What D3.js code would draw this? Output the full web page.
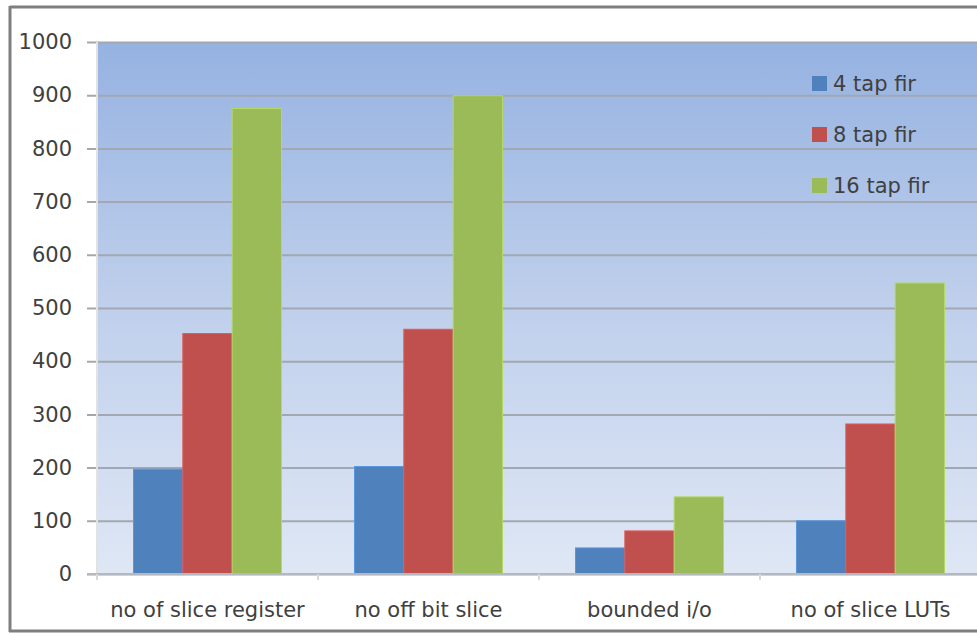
<!DOCTYPE html>
<html>
<head>
<meta charset="utf-8">
<script src="https://cdn.jsdelivr.net/npm/d3@7"></script>
<style>
  html, body { margin: 0; padding: 0; background: #fff; }
  svg { display: block; }
  text { font-family: "DejaVu Sans", sans-serif; fill: #404040; }
</style>
</head>
<body>
<svg id="chart" width="977" height="633"></svg>
<script>
const categories = ["no of slice register", "no off bit slice", "bounded i/o", "no of slice LUTs"];
const seriesNames = ["4 tap fir", "8 tap fir", "16 tap fir"];
const tap4 = [197, 202, 49, 100];
const tap8 = [452, 460, 81, 282];
const tap16 = [875, 899, 145, 547];
const yTicks = [0, 100, 200, 300, 400, 500, 600, 700, 800, 900, 1000];
const colors = ["#4f81bd", "#c0504d", "#9bbb59"];

const seriesValues = [tap4, tap8, tap16];
const svg = d3.select("#chart");
const W = 977, H = 633;
const plot = { left: 97, top: 42, right: 981, bottom: 574 };
const FONT = "'DejaVu Sans', sans-serif";

svg.append("rect").attr("x", 0).attr("y", 0).attr("width", W).attr("height", H).attr("fill", "#fff");

const defs = svg.append("defs");
const grad = defs.append("linearGradient").attr("id", "bg").attr("x1", 0).attr("y1", 0).attr("x2", 0).attr("y2", 1);
grad.append("stop").attr("offset", "0%").attr("stop-color", "#95b2e1");
grad.append("stop").attr("offset", "45%").attr("stop-color", "#bccdeb");
grad.append("stop").attr("offset", "100%").attr("stop-color", "#dfe7f5");

const x0 = d3.scaleBand().domain(categories).range([plot.left, plot.right]).paddingInner(0).paddingOuter(0);
const x1 = d3.scaleBand().domain(seriesNames).range([0, x0.bandwidth()]).paddingInner(0).paddingOuter(0.74);
const y = d3.scaleLinear().domain([0, 1000]).range([plot.bottom, plot.top]);

svg.append("rect")
  .attr("x", plot.left).attr("y", y(1000))
  .attr("width", plot.right - plot.left).attr("height", y(0) - y(1000))
  .attr("fill", "url(#bg)");

// gridlines + y axis
const yAxis = d3.axisLeft(y).tickValues(yTicks).tickSize(-(plot.right - plot.left)).tickPadding(25).tickFormat(d3.format("d"));
const gy = svg.append("g").attr("transform", `translate(${plot.left},0)`).call(yAxis);
gy.select(".domain").remove();
gy.selectAll(".tick line").attr("x1", -10).attr("stroke", "#a2a7b1").attr("stroke-width", 2);
gy.selectAll(".tick text").attr("font-size", 21).attr("fill", "#404040").attr("font-family", FONT);

// left axis line
svg.append("line").attr("x1", plot.left).attr("x2", plot.left).attr("y1", y(1000)).attr("y2", y(0))
  .attr("stroke", "#e2e2e2").attr("stroke-width", 2);

// bars
const groups = svg.append("g").selectAll("g").data(categories).join("g")
  .attr("transform", d => `translate(${x0(d)},0)`);
groups.selectAll("rect")
  .data((c, ci) => seriesNames.map((s, si) => ({ s, si, v: seriesValues[si][ci] })))
  .join("rect")
  .attr("x", d => x1(d.s))
  .attr("y", d => y(d.v))
  .attr("width", x1.bandwidth())
  .attr("height", d => y(0) - y(d.v))
  .attr("fill", d => colors[d.si])
  .attr("stroke", d => d3.color(colors[d.si]).brighter(0.4))
  .attr("stroke-width", 1);

// x axis
const xAxis = d3.axisBottom(x0).tickSize(0).tickPadding(28);
const gx = svg.append("g").attr("transform", `translate(0,${plot.bottom})`).call(xAxis);
gx.select(".domain").remove();
gx.selectAll(".tick text").attr("font-size", 21).attr("fill", "#404040").attr("font-family", FONT);
svg.append("line").attr("x1", plot.left - 10).attr("x2", plot.right).attr("y1", y(0)).attr("y2", y(0))
  .attr("stroke", "#b4b8c0").attr("stroke-width", 2);
svg.append("g").selectAll("line").data(categories).join("line")
  .attr("x1", d => x0(d)).attr("x2", d => x0(d))
  .attr("y1", y(0)).attr("y2", y(0) + 6)
  .attr("stroke", "#d8d8d8").attr("stroke-width", 2);

// legend
const legend = svg.append("g").attr("transform", "translate(812,76)");
const li = legend.selectAll("g").data(seriesNames).join("g")
  .attr("transform", (d, i) => `translate(0,${i * 51})`);
li.append("rect").attr("width", 15).attr("height", 15).attr("fill", (d, i) => colors[i]);
li.append("text").attr("x", 21).attr("y", 15).attr("font-size", 21).attr("font-family", FONT)
  .attr("fill", "#333").text(d => d);

// outer border
svg.append("line").attr("x1", 10).attr("x2", W).attr("y1", 7).attr("y2", 7).attr("stroke", "#7f7f7f").attr("stroke-width", 3);
svg.append("line").attr("x1", 10).attr("x2", 10).attr("y1", 6).attr("y2", 632).attr("stroke", "#7f7f7f").attr("stroke-width", 3);
svg.append("line").attr("x1", 9).attr("x2", W).attr("y1", 631).attr("y2", 631).attr("stroke", "#7f7f7f").attr("stroke-width", 3);
</script>
</body>
</html>
